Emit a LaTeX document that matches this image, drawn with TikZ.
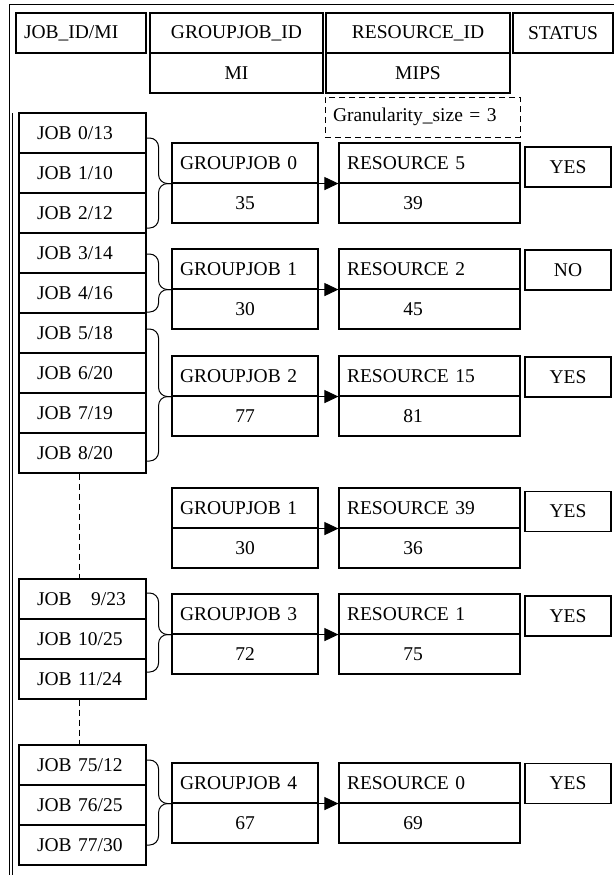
\documentclass[tikz,border=0pt]{standalone}
\usepackage{fontspec}
\setmainfont{Liberation Serif}
\usetikzlibrary{arrows.meta}

\tikzset{
  box/.style={draw, line width=1.1pt, minimum height=40pt, inner sep=0pt},
  head/.style={box},
  job/.style={box, minimum width=127pt, text width=91pt, inner xsep=18pt, align=left},
  gtitle/.style={box, minimum width=146pt, text width=130pt, inner xsep=8pt, align=left},
  gval/.style={box, minimum width=146pt},
  rtitle/.style={box, minimum width=181pt, text width=165pt, inner xsep=8pt, align=left},
  rval/.style={box, minimum width=181pt, text width=165pt, inner xsep=8pt, align=left},
  stat/.style={box, minimum width=86pt},
  grp/.style={line width=1pt, rounded corners=9pt},
  flow/.style={line width=1pt, -{Triangle[length=14pt, width=13pt]}},
  gap/.style={line width=0.9pt, dash pattern=on 6pt off 4pt}
}
\newcommand{\mips}[1]{\makebox[132pt]{#1}}

\begin{document}
\begin{tikzpicture}[x=1pt, y=-1pt, font=\fontsize{19.5}{22}\selectfont]
\useasboundingbox (0,0) rectangle (614,875);

% frame
\draw[line width=0.8pt] (614,4.7) -- (9,4.7) -- (9,875);
\draw[line width=0.8pt] (12.5,113) -- (12.5,875);

% header
\node[head, minimum width=130pt, text width=114pt, inner xsep=8pt, align=left] (hjob) at (81,33) {JOB\_ID/MI};
\node[head, minimum width=173pt] (hgroup) at (236.5,33) {GROUPJOB\_ID};
\node[head, minimum width=184pt] (hres) at (418,33) {RESOURCE\_ID};
\node[head, minimum width=100pt] (hstat) at (563,33) {STATUS};
\node[head, minimum width=173pt] (hmi) at (236.5,73) {MI};
\node[head, minimum width=184pt] (hmips) at (418,73) {MIPS};
\node[box, line width=1pt, dash pattern=on 6pt off 4pt, minimum width=195pt, text width=179pt, inner xsep=8pt, align=left] (gran) at (422.5,117) {Granularity\_size = 3};

% jobs
\node[job] (j0) at (82.5,133) {JOB 0/13};
\node[job] (j1) at (82.5,173) {JOB 1/10};
\node[job] (j2) at (82.5,213) {JOB 2/12};
\node[job] (j3) at (82.5,253) {JOB 3/14};
\node[job] (j4) at (82.5,293) {JOB 4/16};
\node[job] (j5) at (82.5,333) {JOB 5/18};
\node[job] (j6) at (82.5,373) {JOB 6/20};
\node[job] (j7) at (82.5,413) {JOB 7/19};
\node[job] (j8) at (82.5,453) {JOB 8/20};

\node[job] (j9) at (82.5,599) {JOB~~~9/23};
\node[job] (j10) at (82.5,639) {JOB 10/25};
\node[job] (j11) at (82.5,679) {JOB 11/24};

\node[job] (j75) at (82.5,765) {JOB 75/12};
\node[job] (j76) at (82.5,805) {JOB 76/25};
\node[job] (j77) at (82.5,845) {JOB 77/30};

\draw[gap] ([xshift=-3pt]j8.south) -- ([xshift=-3pt]j9.north);
\draw[gap] ([xshift=-3pt]j11.south) -- ([xshift=-3pt]j75.north);

% group jobs
\node[gtitle] (g0) at (245,163) {GROUPJOB 0};
\node[gval] (g0v) at (245,203) {35};
\node[gtitle] (g1) at (245,269) {GROUPJOB 1};
\node[gval] (g1v) at (245,309) {30};
\node[gtitle] (g2) at (245,376) {GROUPJOB 2};
\node[gval] (g2v) at (245,416) {77};
\node[gtitle] (g1b) at (245,508) {GROUPJOB 1};
\node[gval] (g1bv) at (245,548) {30};
\node[gtitle] (g3) at (245,614) {GROUPJOB 3};
\node[gval] (g3v) at (245,654) {72};
\node[gtitle] (g4) at (245,783) {GROUPJOB 4};
\node[gval] (g4v) at (245,823) {67};

% resources
\node[rtitle] (r5) at (429.5,163) {RESOURCE 5};
\node[rval] (r5v) at (429.5,203) {\mips{39}};
\node[rtitle] (r2) at (429.5,269) {RESOURCE 2};
\node[rval] (r2v) at (429.5,309) {\mips{45}};
\node[rtitle] (r15) at (429.5,376) {RESOURCE 15};
\node[rval] (r15v) at (429.5,416) {\mips{81}};
\node[rtitle] (r39) at (429.5,508) {RESOURCE 39};
\node[rval] (r39v) at (429.5,548) {\mips{36}};
\node[rtitle] (r1) at (429.5,614) {RESOURCE 1};
\node[rval] (r1v) at (429.5,654) {\mips{75}};
\node[rtitle] (r0) at (429.5,783) {RESOURCE 0};
\node[rval] (r0v) at (429.5,823) {\mips{69}};

% status
\node[stat] (s5) at (568,167) {YES};
\node[stat] (s2) at (568,270) {NO};
\node[stat] (s15) at (568,377) {YES};
\node[stat] (s39) at (568,511.5) {YES};
\node[stat] (s1) at (568,616) {YES};
\node[stat] (s0) at (568,783.5) {YES};

% braces
\draw[grp] ([yshift=-5pt]j0.east) -- ++(12,0) |- (g0.south west);
\draw[grp] ([yshift=-15pt]j2.east) -- ++(12,0) |- (g0.south west);
\draw[grp] ([yshift=-1pt]j3.east) -- ++(12,0) |- (g1.south west);
\draw[grp] ([yshift=-19pt]j4.east) -- ++(12,0) |- (g1.south west);
\draw[grp] ([yshift=4pt]j5.east) -- ++(12,0) |- (g2.south west);
\draw[grp] ([yshift=-8pt]j8.east) -- ++(12,0) |- (g2.south west);
\draw[grp] ([yshift=6pt]j9.east) -- ++(12,0) |- (g3.south west);
\draw[grp] ([yshift=7pt]j11.east) -- ++(12,0) |- (g3.south west);
\draw[grp] ([yshift=5pt]j75.east) -- ++(12,0) |- (g4.south west);
\draw[grp] (j77.east) -- ++(12,0) |- (g4.south west);

% group job -> resource
\draw[flow] (g0.south east) -- (r5.south west);
\draw[flow] (g1.south east) -- (r2.south west);
\draw[flow] (g2.south east) -- (r15.south west);
\draw[flow] (g1b.south east) -- (r39.south west);
\draw[flow] (g3.south east) -- (r1.south west);
\draw[flow] (g4.south east) -- (r0.south west);
\end{tikzpicture}
\end{document}
